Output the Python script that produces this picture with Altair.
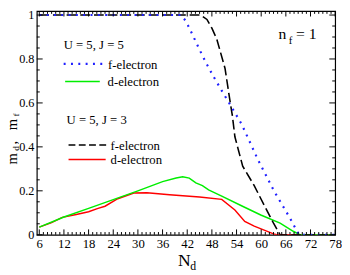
import altair as alt
import pandas as pd

# ---- data ----
f5_N = [6, 40.5, 41.7, 43.3, 44.9, 46.6, 48.4, 50.4, 55.2, 59.2, 63.1, 67.0, 69.2, 78]
f5_v = [1, 1, 0.972, 0.91, 0.846, 0.782, 0.72, 0.656, 0.505, 0.342, 0.2, 0.076, 0, 0]

d5_N = [6, 12, 18, 24, 30, 36, 39.3, 40.9, 42.5, 44.1, 45.7, 47.2, 50.4, 55.2, 59.9, 64.6, 67.8, 69.4, 78]
d5_v = [0.035, 0.081, 0.12, 0.16, 0.20, 0.242, 0.258, 0.264, 0.258, 0.236, 0.224, 0.204, 0.176, 0.132,
        0.090, 0.053, 0.016, 0, 0]

f3_N = [6, 45.2, 46.8, 48, 49.2, 51.2, 52.4, 53.0, 53.6, 55.5, 58.3, 60.7, 63.0, 64.6, 78]
f3_v = [1, 1, 0.98, 0.94, 0.89, 0.757, 0.61, 0.54, 0.446, 0.312, 0.224, 0.135, 0.053, 0, 0]

d3_N = [6, 9, 11.6, 15, 18, 20.3, 22, 25.1, 29, 32.2, 37.7, 39.3, 45, 50.4, 53.6, 56, 58.3, 63, 63.8, 78]
d3_v = [0.035, 0.055, 0.079, 0.092, 0.105, 0.12, 0.13, 0.164, 0.19, 0.191, 0.182, 0.18, 0.172, 0.161,
        0.113, 0.061, 0.039, 0.004, 0, 0]

x_major = list(range(6, 79, 6))
x_minor = [v for v in range(6, 79) if v % 6 != 0]
y_major = [0, 0.2, 0.4, 0.6, 0.8, 1.0]
y_minor = [round(0.05 * i, 2) for i in range(0, 21) if i % 4 != 0]

W, H = 305.5, 229
FONT = "Liberation Serif, Times New Roman, Times, serif"

xs = alt.Scale(domain=[5.4, 78], nice=False, zero=False)
ys = alt.Scale(domain=[0, 1.0178], nice=False, zero=False)
xaxis = alt.Axis(values=x_major, ticks=False, domain=False, grid=False, title=None,
                 labelFont=FONT, labelFontSize=13, labelColor="black", labelPadding=3,
                 labelFlush=False, labelOverlap=False)
yaxis = alt.Axis(values=y_major, ticks=False, domain=False, grid=False, title=None,
                 labelFont=FONT, labelFontSize=12.5, labelColor="black", labelPadding=3,
                 format="~g", labelOverlap=False)


def line(N, v, color, dash=None, width=1.5):
    df = pd.DataFrame({"N": N, "v": v})
    kw = dict(color=color, strokeWidth=width, clip=True)
    if dash:
        kw["strokeDash"] = dash
    return alt.Chart(df).mark_line(**kw).encode(
        x=alt.X("N:Q", scale=xs, axis=xaxis),
        y=alt.Y("v:Q", scale=ys, axis=yaxis),
    )


layers = [
    line(d3_N, d3_v, "#ff0000", width=1.5),
    line(d5_N, d5_v, "#00ee00", width=1.5),
    line(f3_N, f3_v, "black", dash=[10, 4], width=1.6),
    line(f5_N, f5_v, "#2020ff", dash=[2, 5.5], width=2.2),
]


def xticks(vals, length):
    df = pd.DataFrame({"N": vals})
    b = alt.Chart(df).mark_rule(color="black", strokeWidth=1).encode(
        x=alt.X("N:Q", scale=xs, axis=xaxis), y=alt.value(H), y2=alt.value(H - length))
    t = alt.Chart(df).mark_rule(color="black", strokeWidth=1).encode(
        x=alt.X("N:Q", scale=xs, axis=xaxis), y=alt.value(0), y2=alt.value(length))
    return [b, t]


def yticks(vals, length):
    df = pd.DataFrame({"v": vals})
    l = alt.Chart(df).mark_rule(color="black", strokeWidth=1).encode(
        y=alt.Y("v:Q", scale=ys, axis=yaxis), x=alt.value(0), x2=alt.value(length))
    r = alt.Chart(df).mark_rule(color="black", strokeWidth=1).encode(
        y=alt.Y("v:Q", scale=ys, axis=yaxis), x=alt.value(W), x2=alt.value(W - length))
    return [l, r]


layers += xticks(x_major, 5.5) + xticks(x_minor, 2.8) + yticks(y_major, 6) + yticks(y_minor, 3)


def seg(x1, x2, y, color, dash=None, width=1.5):
    kw = dict(color=color, strokeWidth=width)
    if dash:
        kw["strokeDash"] = dash
    return alt.Chart(pd.DataFrame({"a": [0]})).mark_rule(**kw).encode(
        x=alt.value(x1), x2=alt.value(x2), y=alt.value(y))


def txt(s, x, y, size=13, align="left", baseline="middle", angle=0):
    kw = dict(text=s, font=FONT, fontSize=size, align=align, baseline=baseline, color="black")
    if angle:
        kw["angle"] = angle
    return alt.Chart(pd.DataFrame({"a": [0]})).mark_text(**kw).encode(
        x=alt.value(x), y=alt.value(y))


layers += [
    txt("U = 5, J = 5", 27.5, 35),
    seg(27.5, 70.5, 54, "#2020ff", dash=[2, 5.5], width=2.2),
    txt("f-electron", 73, 55),
    seg(29, 64.5, 72, "#00ee00", width=1.5),
    txt("d-electron", 72.5, 73),
    txt("U = 5, J = 3", 30.5, 112),
    seg(32.5, 72.5, 137, "black", dash=[7, 3.5], width=1.6),
    txt("f-electron", 75.5, 138),
    seg(32.5, 70.5, 152, "#ff0000", width=1.5),
    txt("d-electron", 75.5, 153),
    # n_f = 1
    txt("n", 247.5, 29, size=16, baseline="alphabetic"),
    txt("f", 258, 34, size=11, baseline="alphabetic"),
    txt("= 1", 265.5, 29, size=16, baseline="alphabetic"),
    # x title N_d
    txt("N", 144.5, 260.5, size=18, baseline="alphabetic"),
    txt("d", 157, 265, size=12, baseline="alphabetic"),
    # y title m_d, m_f (rotated)
    txt("m", -20.5, 157, size=15, baseline="alphabetic", angle=270),
    txt("d", -18, 143, size=9.5, baseline="alphabetic", angle=270),
    txt(",", -20.5, 136.5, size=15, baseline="alphabetic", angle=270),
    txt("m", -20.5, 122, size=15, baseline="alphabetic", angle=270),
    txt("f", -18, 108, size=9.5, baseline="alphabetic", angle=270),
]

chart = alt.layer(*layers).properties(
    width=W, height=H,
    autosize=alt.AutoSizeParams(type="none"),
    padding={"left": 29.5, "top": 0, "right": 7, "bottom": 38},
).configure_view(stroke="black", strokeWidth=1.2)

chart.save("out.html", embed_options={"renderer": "svg", "actions": False})
